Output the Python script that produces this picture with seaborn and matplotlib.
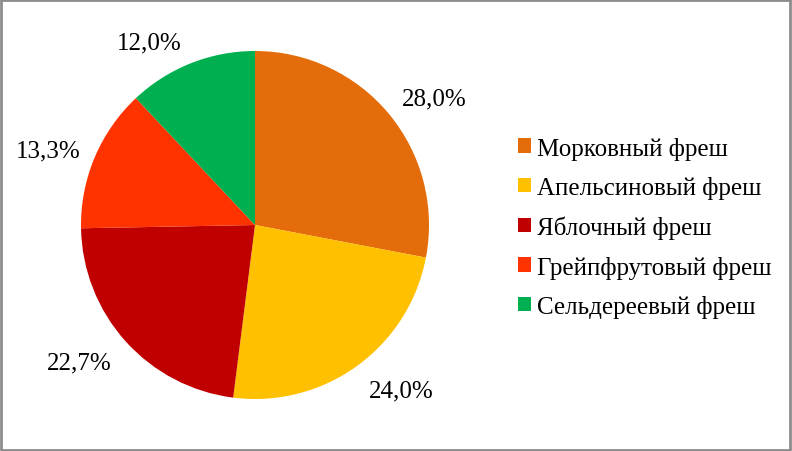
import matplotlib
matplotlib.use('Agg')
import matplotlib.pyplot as plt
import seaborn as sns
from matplotlib.patches import Rectangle, Patch

# data
labels = ['Морковный фреш', 'Апельсиновый фреш', 'Яблочный фреш',
          'Грейпфрутовый фреш', 'Сельдереевый фреш']
shares = [28.0, 24.0, 22.7, 13.3, 12.0]
colors = ['#E46C0A', '#FFC000', '#C00000', '#FF3300', '#00B050']

# where Excel put the data labels (best fit), in pie radius units
label_pos = [(1.03, 0.73), (0.84, -0.95), (-1.01, -0.79), (-1.19, 0.43), (-0.61, 1.05)]

sns.set_theme(style='white')
plt.rcParams['font.family'] = ['Liberation Serif', 'DejaVu Serif']
plt.rcParams['text.color'] = 'black'

fig = plt.figure(figsize=(7.92, 4.52), dpi=100)
ax = fig.add_axes([81/792, 52/452, 348/792, 348/452])

wedges, texts, autotexts = ax.pie(
    shares, colors=sns.color_palette(colors), startangle=90, counterclock=False,
    autopct=lambda p: f'{p:.1f}%'.replace('.', ','), pctdistance=1.25,
    wedgeprops={'linewidth': 0}, textprops={'fontsize': 18, 'color': 'black'})
for t, pos in zip(autotexts, label_pos):
    t.set_position(pos)
    t.set_ha('center')
    t.set_va('center')
ax.set_xlim(-1, 1)
ax.set_ylim(-1, 1)
ax.set_aspect('equal')

handles = [Patch(facecolor=c, edgecolor='none') for c in colors]
fig.legend(handles, labels, loc='center left', bbox_to_anchor=(518/792, 0.495),
           frameon=False, fontsize=18, borderpad=0, borderaxespad=0,
           handlelength=0.52, handleheight=0.52,
           handletextpad=0.25, labelspacing=0.66, labelcolor='black')

# grey frame around the chart area
fig.patches.append(Rectangle((0.001, 0.002), 0.997, 0.995, transform=fig.transFigure,
                             fill=False, edgecolor='#8c8c8c', linewidth=2))

fig.savefig('out.png', dpi=100)
